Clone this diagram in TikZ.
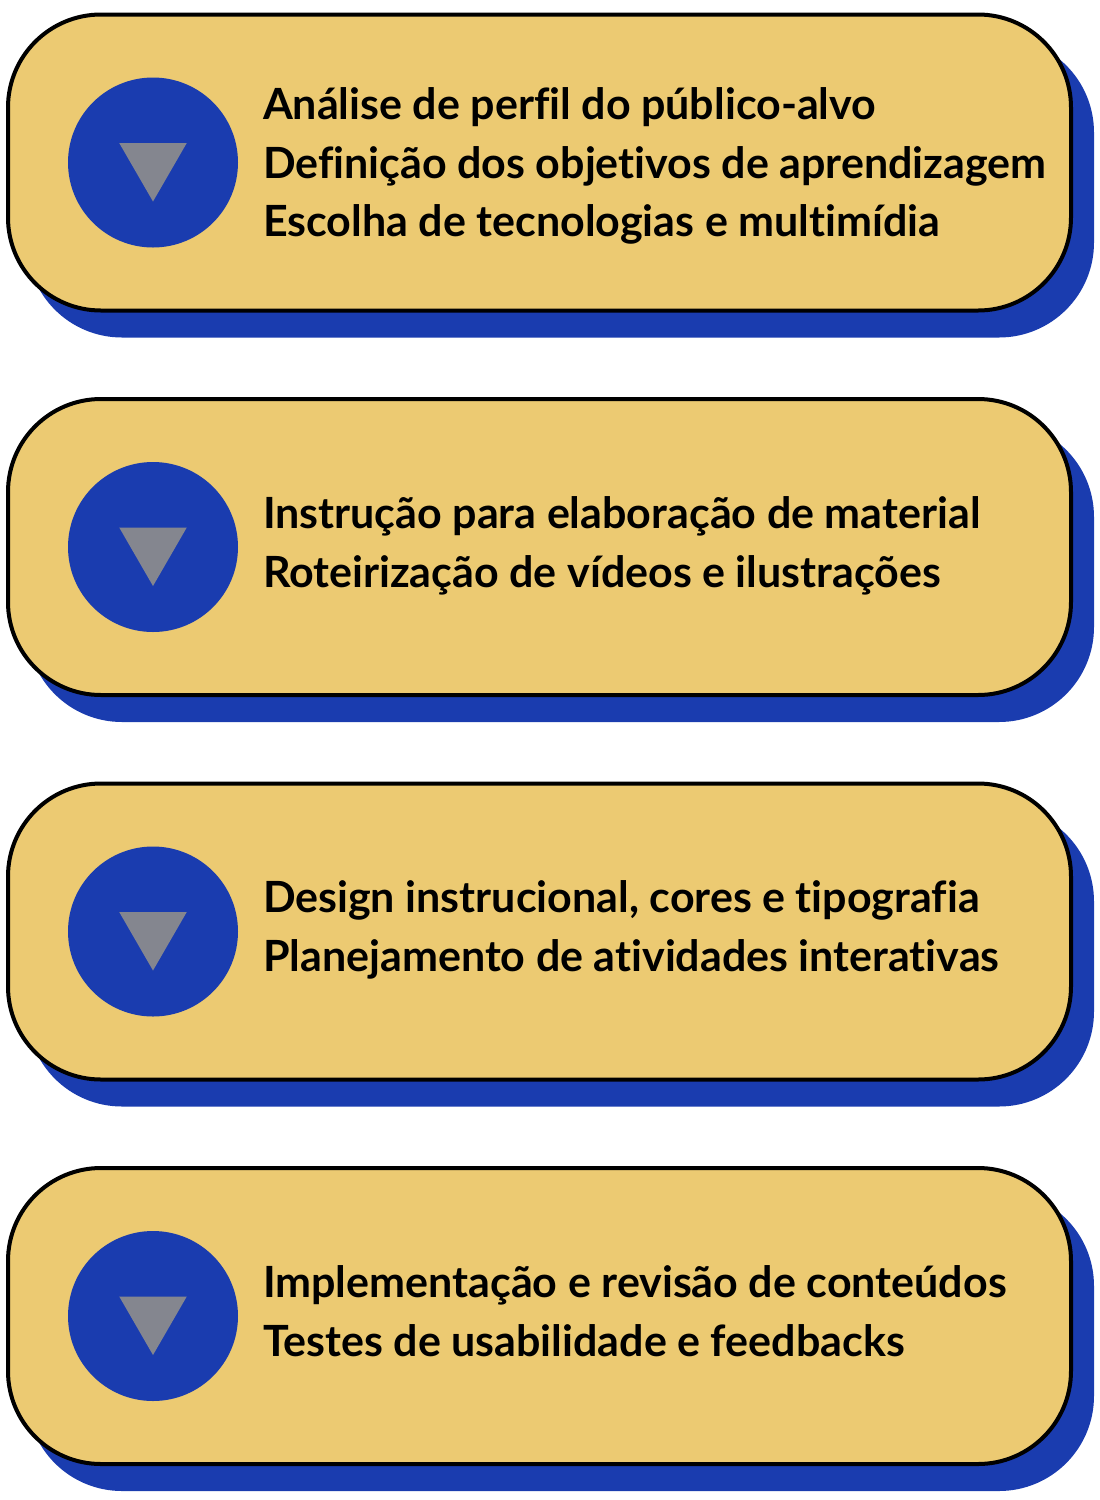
\documentclass[tikz,border=0pt]{standalone}
\usepackage{fontspec}
\setmainfont{Lato}[Ligatures={NoCommon,NoRare}]
\usetikzlibrary{shapes.geometric}
\definecolor{boxyellow}{HTML}{ECCA72}
\definecolor{boxblue}{HTML}{1A3CAF}
\definecolor{trigrey}{HTML}{84868F}
\tikzset{
  shadowbox/.style={rectangle, rounded corners=95pt, fill=boxblue, draw=none, minimum width=1067pt, minimum height=300pt, inner sep=0pt, outer sep=0pt},
  mainbox/.style={rectangle, rounded corners=93pt, fill=boxyellow, draw=black, line width=4pt, minimum width=1063pt, minimum height=296pt, inner sep=0pt, outer sep=0pt},
  disc/.style={circle, fill=boxblue, draw=none, minimum size=170pt, inner sep=0pt, outer sep=0pt},
  tri/.style={regular polygon, regular polygon sides=3, shape border rotate=180, fill=trigrey, draw=none, minimum size=78pt, inner sep=0pt, outer sep=0pt},
  line/.style={anchor=base west, inner sep=0pt, outer sep=0pt, font=\fontsize{43}{50}\selectfont\bfseries, text=black}
}
\begin{document}
\begin{tikzpicture}[x=1pt,y=-1pt]
\useasboundingbox (0,0) rectangle (1100,1500);
% box 1
\node[shadowbox] (s1) at (560.5,187.5) {};
\node[mainbox] (b1) at (539.5,162.5) {};
\node[disc] (c1) at (153,162.5) {};
\node[tri] (t1) at (c1.center) {};
\node[line] (l11) at (263,119) {Análise de perfil do público-alvo};
\node[line] (l12) at (263,178) {Definição dos objetivos de aprendizagem};
\node[line] (l13) at (263,236) {Escolha de tecnologias e multimídia};
% box 2
\node[shadowbox] (s2) at (560.5,572) {};
\node[mainbox] (b2) at (539.5,547) {};
\node[disc] (c2) at (153,547) {};
\node[tri] (t2) at (c2.center) {};
\node[line] (l21) at (263,528) {Instrução para elaboração de material};
\node[line] (l22) at (263,587) {Roteirização de vídeos e ilustrações};
% box 3
\node[shadowbox] (s3) at (560.5,956.5) {};
\node[mainbox] (b3) at (539.5,931.5) {};
\node[disc] (c3) at (153,931.5) {};
\node[tri] (t3) at (c3.center) {};
\node[line] (l31) at (263,912.5) {Design instrucional, cores e tipografia};
\node[line] (l32) at (263,971.5) {Planejamento de atividades interativas};
% box 4
\node[shadowbox] (s4) at (560.5,1341) {};
\node[mainbox] (b4) at (539.5,1316) {};
\node[disc] (c4) at (153,1316) {};
\node[tri] (t4) at (c4.center) {};
\node[line] (l41) at (263,1297) {Implementação e revisão de conteúdos};
\node[line] (l42) at (263,1356) {Testes de usabilidade e feedbacks};
\end{tikzpicture}
\end{document}
